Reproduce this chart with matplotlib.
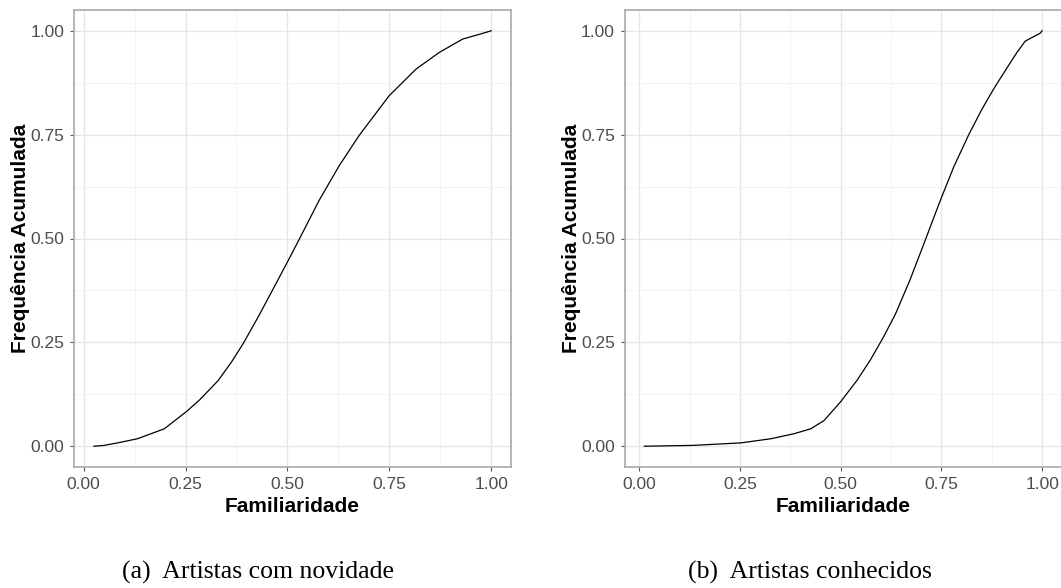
import matplotlib
matplotlib.use('Agg')
import matplotlib.pyplot as plt
from matplotlib.ticker import MultipleLocator

# curva (a) Artistas com novidade
x_novidade = [0.025, 0.05, 0.083, 0.132, 0.198, 0.253, 0.285, 0.33, 0.363, 0.392, 0.429,
              0.462, 0.503, 0.53, 0.578, 0.627, 0.676, 0.75, 0.816, 0.873, 0.93, 0.98, 1.0]
y_novidade = [0.0, 0.002, 0.008, 0.018, 0.042, 0.084, 0.112, 0.158, 0.203, 0.248, 0.3125,
              0.373, 0.449, 0.50, 0.592, 0.675, 0.748, 0.844, 0.908, 0.948, 0.98, 0.994, 1.0]

# curva (b) Artistas conhecidos
x_conhecidos = [0.013, 0.133, 0.252, 0.327, 0.384, 0.426, 0.459, 0.5, 0.541, 0.574, 0.607,
                0.636, 0.672, 0.71, 0.7475, 0.781, 0.818, 0.85, 0.878, 0.896, 0.921,
                0.937, 0.958, 0.995, 1.0]
y_conhecidos = [0.0, 0.002, 0.008, 0.018, 0.03, 0.042, 0.062, 0.107, 0.159, 0.208, 0.264,
                0.318, 0.40, 0.496, 0.592, 0.673, 0.75, 0.81, 0.857, 0.885, 0.923,
                0.947, 0.975, 0.994, 1.0]

tick_vals = [0.0, 0.25, 0.5, 0.75, 1.0]
tick_labels = ['0.00', '0.25', '0.50', '0.75', '1.00']
legendas = ['(a)  Artistas com novidade', '(b)  Artistas conhecidos']

W, H = 1061, 588
fig = plt.figure(figsize=(W / 100, H / 100), dpi=100)
sans = ['Liberation Sans', 'DejaVu Sans']


def painel(rect, x, y):
    ax = fig.add_axes(rect)
    ax.plot(x, y, color='black', lw=0.9)
    # expansao de 5% como no ggplot
    dx = (max(x) - min(x)) * 0.05
    ax.set_xlim(min(x) - dx, max(x) + dx)
    ax.set_ylim(-0.05, 1.05)
    ax.set_xticks(tick_vals)
    ax.set_xticklabels(tick_labels)
    ax.set_yticks(tick_vals)
    ax.set_yticklabels(tick_labels)
    ax.xaxis.set_minor_locator(MultipleLocator(0.125))
    ax.yaxis.set_minor_locator(MultipleLocator(0.125))
    ax.grid(which='major', color='#E6E6E6', lw=1.0)
    ax.grid(which='minor', color='#F3F3F3', lw=0.7)
    ax.set_axisbelow(True)
    ax.tick_params(which='major', length=3, width=0.8, color='#555555',
                   labelsize=12.5, labelcolor='#4D4D4D', pad=4)
    ax.tick_params(which='minor', length=0)
    for s in ax.spines.values():
        s.set_color('#A8A8A8')
        s.set_linewidth(1.2)
    for lab in ax.get_xticklabels() + ax.get_yticklabels():
        lab.set_family(sans)
    ax.set_xlabel('Familiaridade', fontsize=15, fontweight='bold',
                  family=sans, labelpad=4)
    ax.set_ylabel('Frequência Acumulada', fontsize=15, fontweight='bold',
                  family=sans, labelpad=0)
    return ax


ax1 = painel([74 / W, 1 - 467 / H, (511 - 74) / W, (467 - 10) / H],
             x_novidade, y_novidade)
ax2 = painel([624.5 / W, 1 - 467 / H, (1062 - 624.5) / W, (467 - 10) / H],
             x_conhecidos, y_conhecidos)

fig.text(258 / W, 1 - 572 / H, legendas[0], ha='center', va='center',
         fontsize=18.5, family=['Liberation Serif', 'DejaVu Serif'])
fig.text(810 / W, 1 - 572 / H, legendas[1], ha='center', va='center',
         fontsize=18.5, family=['Liberation Serif', 'DejaVu Serif'])

fig.savefig('out.png', dpi=100)
